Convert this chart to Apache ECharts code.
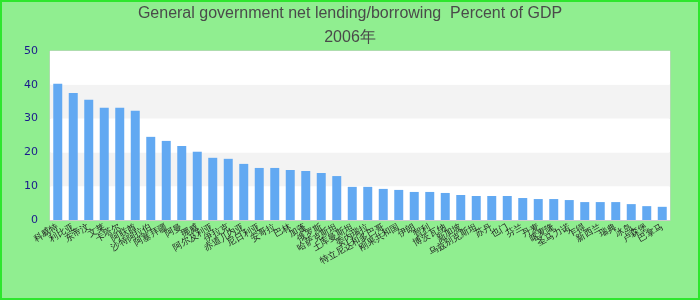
<!DOCTYPE html>
<html><head><meta charset="utf-8">
<script src="https://cdn.jsdelivr.net/npm/echarts@6/dist/echarts.min.js"></script>
<style>html,body{margin:0;padding:0;background:#90ee90}#c{width:700px;height:300px;box-sizing:border-box;border:2px solid #2ee62e}</style>
</head><body><div id="c"></div>
<script>
const titleLine1 = 'General government net lending/borrowing  Percent of GDP';
const titleLine2 = '2006年';
const categories = ['科威特','利比亚','东帝汶','文莱','卡塔尔','阿联酋','沙特阿拉伯','阿塞拜疆','阿曼','挪威','阿尔及利亚','伊拉克','赤道几内亚','尼日利亚','安哥拉','巴林','加蓬','俄罗斯','哈萨克斯坦','土库曼斯坦','委内瑞拉','特立尼达和多巴哥','刚果共和国','伊朗','智利','博茨瓦纳','新加坡','乌兹别克斯坦','苏丹','也门','芬兰','丹麦','喀麦隆','圣马力诺','乍得','新西兰','瑞典','冰岛','卢森堡','巴拿马'];
const values = [40.3,37.6,35.6,33.2,33.2,32.3,24.6,23.4,21.9,20.2,18.4,18.1,16.6,15.4,15.4,14.8,14.5,13.9,13.0,9.8,9.8,9.2,8.9,8.3,8.3,8.0,7.4,7.1,7.1,7.1,6.5,6.2,6.2,5.9,5.3,5.3,5.3,4.7,4.1,3.9];
const yTicks = {min:0, max:50, interval:10};

const chart = echarts.init(document.getElementById('c'));
chart.setOption({
  backgroundColor:'#90ee90',
  title:{text:titleLine1+'\n'+titleLine2,left:'center',top:-5,
    textStyle:{color:'#4a4a4a',fontSize:16,fontWeight:'normal',fontFamily:'Liberation Sans',lineHeight:24}},
  grid:{left:48,right:28,top:49,bottom:78,show:true,backgroundColor:'#fff',borderColor:'#ccc',borderWidth:1},
  xAxis:{type:'category',data:categories,
    axisLine:{lineStyle:{color:'#ccc'}},axisTick:{show:false},
    axisLabel:{rotate:30,interval:0,fontSize:9,color:'#222',margin:6}},
  yAxis:{type:'value',min:yTicks.min,max:yTicks.max,interval:yTicks.interval,
    axisLine:{show:false},axisTick:{show:false},splitLine:{show:false},
    splitArea:{show:true,areaStyle:{color:['#ffffff','#f3f3f3']}},
    axisLabel:{color:'#1a1a8c',fontSize:11,fontFamily:'DejaVu Sans',margin:12}},
  series:[{type:'bar',data:values,barWidth:'58%',itemStyle:{color:'#62a9f2'}}]
});
</script></body></html>
